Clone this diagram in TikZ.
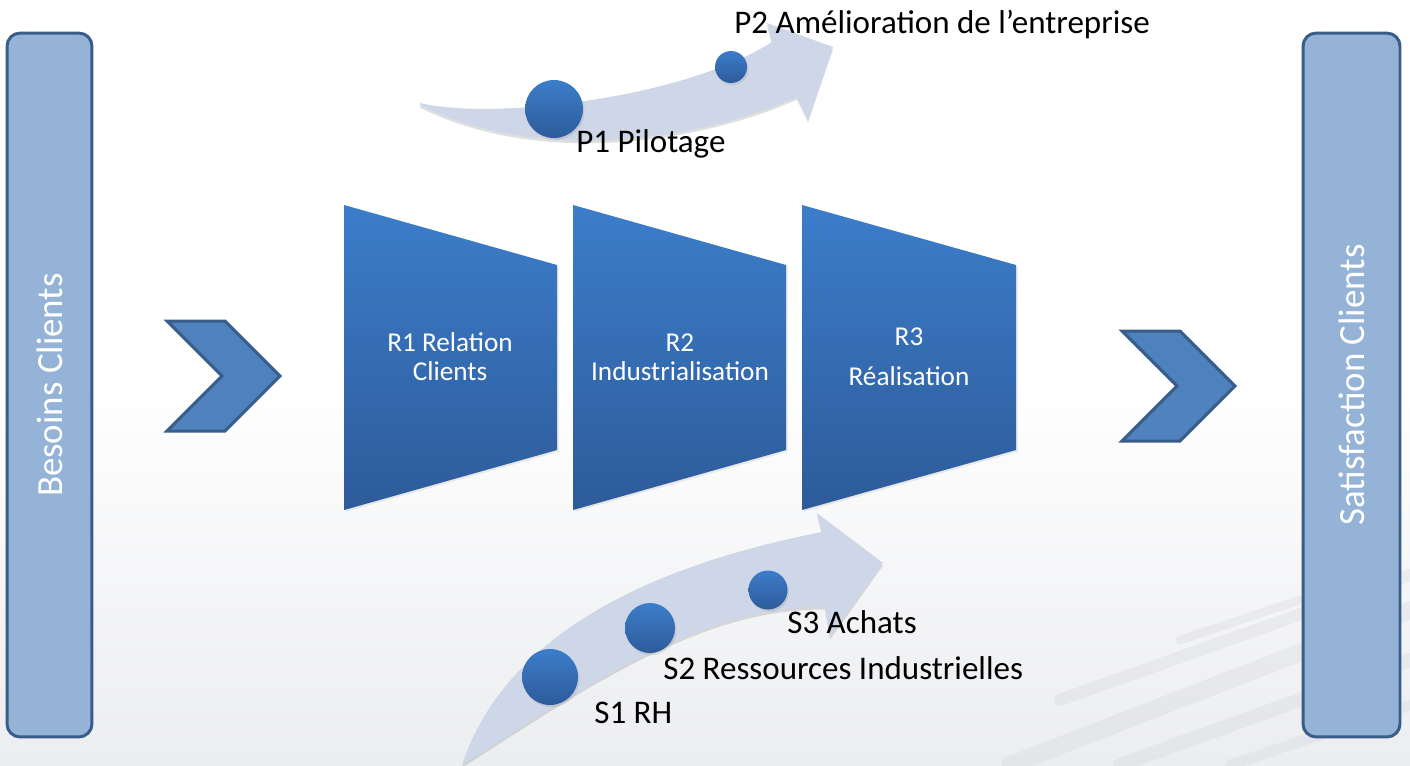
\documentclass[tikz,border=0pt]{standalone}
\usepackage{fontspec}
\setmainfont{Carlito}
\usepackage{tikz}
\usetikzlibrary{shadows}
\definecolor{barfill}{HTML}{95B3D7}
\definecolor{barline}{HTML}{385D8A}
\definecolor{chevfill}{HTML}{4F81BD}
\definecolor{steptop}{HTML}{3C7DCA}
\definecolor{stepbot}{HTML}{2D5B9A}
\definecolor{bandfill}{HTML}{CDD7E8}
\definecolor{bggray}{HTML}{ECEDF0}
\definecolor{streakgray}{HTML}{C9CACE}

\tikzset{
  sidebar/.style={draw=barline, fill=barfill, line width=1.7pt, rounded corners=7.4pt, rotate=90, text=white, font=\fontsize{21pt}{24pt}\selectfont},
  chevron/.style={draw=barline, fill=chevfill, line width=1.7pt, line join=miter},
  stepbox/.style={top color=steptop, bottom color=stepbot, drop shadow={opacity=0.15, shadow xshift=1pt, shadow yshift=-1pt}},
  steptext/.style={text=white, align=center, font=\fontsize{15.5pt}{16.5pt}\selectfont},
  ball/.style={circle, inner sep=0pt, top color=steptop, bottom color=stepbot, drop shadow={opacity=0.2, shadow xshift=0.8pt, shadow yshift=-1.2pt}},
  band/.style={fill=bandfill, drop shadow={opacity=0.25, shadow xshift=0pt, shadow yshift=-1.5pt}},
  tag/.style={anchor=base west, inner sep=0pt, font=\fontsize{18.8pt}{21pt}\selectfont},
  streak/.style={draw=streakgray, line cap=round, opacity=0.22}
}

\begin{document}
\begin{tikzpicture}[x=0.02cm, y=-0.02cm]%
\useasboundingbox (0,0) rectangle (1410,765);%
% background
\fill[white] (0,0) rectangle (1410,765);%
\shade[top color=white, bottom color=bggray] (0,380) rectangle (1410,765);%
\draw[streak, line width=10pt] (1010,765) -- (1410,610);%
\draw[streak, line width=7pt] (1060,700) -- (1410,575);%
\draw[streak, line width=8pt] (1120,765) -- (1410,660);%
\draw[streak, line width=5pt] (1180,640) -- (1300,600);%
\draw[streak, line width=6pt] (1230,765) -- (1410,705);%
% side bars
\node[sidebar, minimum width=14.08cm, minimum height=1.7cm] (besoins) at (49.5,385) {Besoins Clients};%
\node[sidebar, minimum width=14.08cm, minimum height=1.94cm] (satisf) at (1351.5,385) {Satisfaction Clients};%
% chevrons
\draw[chevron] (167,321) -- (225,321) -- (280,376) -- (225,431) -- (167,431) -- (222,376) -- cycle;%
\draw[chevron] (1122,331) -- (1180,331) -- (1235,386) -- (1180,441) -- (1122,441) -- (1177,386) -- cycle;%
% process steps
\shade[stepbox] (344,205) -- (557,265) -- (557,450) -- (344,510) -- cycle;%
\shade[stepbox] (573,205) -- (786,265) -- (786,450) -- (573,510) -- cycle;%
\shade[stepbox] (802,205) -- (1016,265) -- (1016,450) -- (802,510) -- cycle;%
\node[steptext] (r1) at (450,357) {R1 Relation\\Clients};%
\node[steptext] (r2) at (680,357) {R2\\Industrialisation};%
\node[steptext] (r3) at (909,357) {R3\\[6.5pt]Réalisation};%
% pilotage arrow
\fill[band] (420,103) .. controls (490,120) and (680,100) .. (772,42) -- (767,23) -- (833,47) -- (808,120) -- (797,97) .. controls (700,140) and (540,165) .. (420,105) -- cycle;%
\node[ball, minimum size=1.16cm] (p1) at (554,109) {};%
\node[ball, minimum size=0.64cm] (p2) at (731,67) {};%
\node[tag] (p1t) at (576,152) {P1 Pilotage};%
\node[tag] (p2t) at (734,33) {P2 Amélioration de l’entreprise};%
% support arrow
\fill[band] (462,765) .. controls (510,620) and (680,560) .. (822,532) -- (817,513) -- (883,563) -- (830,637) -- (825,607) .. controls (700,605) and (580,690) .. (462,765) -- cycle;%
\node[ball, minimum size=1.12cm] (s1) at (550,677) {};%
\node[ball, minimum size=1.0cm] (s2) at (650,628) {};%
\node[ball, minimum size=0.78cm] (s3) at (768,590) {};%
\node[tag] (s1t) at (594,723) {S1 RH};%
\node[tag] (s2t) at (663,679) {S2 Ressources Industrielles};%
\node[tag] (s3t) at (787,633) {S3 Achats};%
\end{tikzpicture}
\end{document}
